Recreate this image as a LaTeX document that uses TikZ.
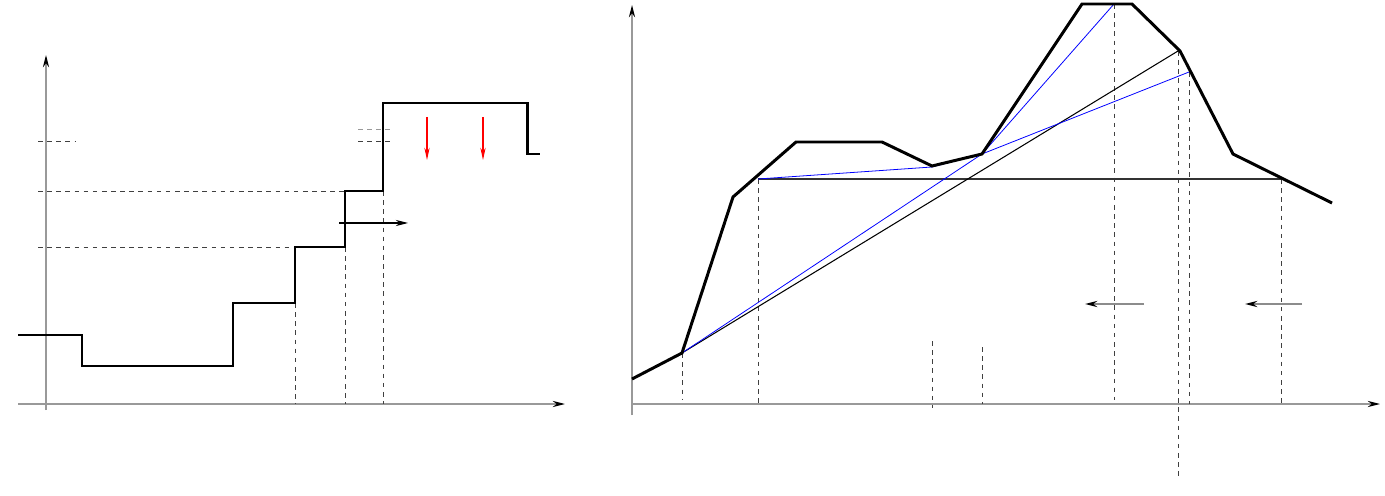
\documentclass[tikz,border=0pt]{standalone}
\usepackage{tikz}
\usetikzlibrary{arrows.meta, calc, positioning}

\tikzset{
  axis/.style={black!40, line width=0.85pt, -{Stealth[black, length=7pt, width=3.5pt]}},
  profile/.style={line width=1.7pt, line join=miter},
  guide/.style={black!75, line width=0.5pt, dash pattern=on 2.6pt off 2.6pt},
  chord/.style={line width=0.6pt},
  bluechord/.style={blue, line width=0.45pt},
  shiftarrow/.style={line width=0.6pt, -{Stealth[length=7pt, width=3.5pt]}},
  droparrow/.style={red, line width=0.6pt, -{Stealth[length=7pt, width=3pt]}},
  backarrow/.style={black!45, line width=1pt, -{Stealth[black, length=7pt, width=3.5pt]}},
}

\begin{document}
\begin{tikzpicture}[x=0.02cm, y=-0.02cm]
    \useasboundingbox (0,0) rectangle (1385,496);

    % left panel
    \coordinate (lorigo) at (46,404);
    \draw[axis] (18,404) -- (565,404);
    \draw[axis] (46,410) -- (46,55);

    \coordinate (s1) at (295,303);
    \coordinate (s2) at (345,247);
    \coordinate (s3) at (383,191);

    \draw[guide] (38,247) -- (295,247);
    \draw[guide] (38,191) -- (345,191);
    \draw[guide] (38,141) -- (75,141);
    \draw[guide, black!40] (358,129) -- (393,129);
    \draw[guide] (358,141) -- (393,141);
    \draw[guide] (s1) -- (s1 |- lorigo);
    \draw[guide] (s2) -- (s2 |- lorigo);
    \draw[guide] (s3) -- (s3 |- lorigo);

    \draw[profile] (18,335) -| (82,366) -| (233,303) -| (295,247) -| (345,191)
                   -| (383,103) -| (527,154) -- (540,154);

    \draw[shiftarrow] (339,223) -- (408,223);
    \draw[droparrow] (427,117) -- (427,160);
    \draw[droparrow] (483,117) -- (483,160);

    % right panel
    \coordinate (rorigo) at (632,404);
    \draw[axis] (632,415) -- (632,5);
    \draw[axis] (632,404) -- (1380,404);

    \coordinate (pa) at (682,353);
    \coordinate (pb) at (758,179);
    \coordinate (pc) at (932,167);
    \coordinate (pd) at (982,154);
    \coordinate (pe) at (1114,4);
    \coordinate (pf) at (1178,51);
    \coordinate (pg) at (1189,72);
    \coordinate (ph) at (1281,179);

    \draw[guide] (pa) -- ($(pa |- rorigo)+(0,-4)$);
    \draw[guide] (pb) -- (pb |- rorigo);
    \draw[guide] (932,341) -- (932,408);
    \draw[guide] (982,347) -- (982,404);
    \draw[guide] (pe) -- ($(pe |- rorigo)+(0,-4)$);
    \draw[guide] (pf) -- (1178,479);
    \draw[guide] (pg) -- (pg |- rorigo);
    \draw[guide] (ph) -- ($(ph |- rorigo)+(0,1)$);

    \draw[black!80, line width=0.8pt] (pb) -- (ph);
    \draw[chord] (pa) -- (pf);
    \draw[bluechord] (pa) -- (pd) -- (pe);
    \draw[bluechord] (pd) -- (pg);
    \draw[bluechord] (pb) -- (pc) -- (pd);

    \draw[profile] (632,379) -- (pa) -- (733,197) -- (796,142) -- (882,142) -- (932,166)
                   -- (pd) -- (1082,4) -- (1132,4) -- (1180,51) -- (1233,154) -- (1332,203);

    \draw[backarrow] (1144,304) -- (1085,304);
    \draw[backarrow] (1302,304) -- (1245,304);
\end{tikzpicture}
\end{document}
